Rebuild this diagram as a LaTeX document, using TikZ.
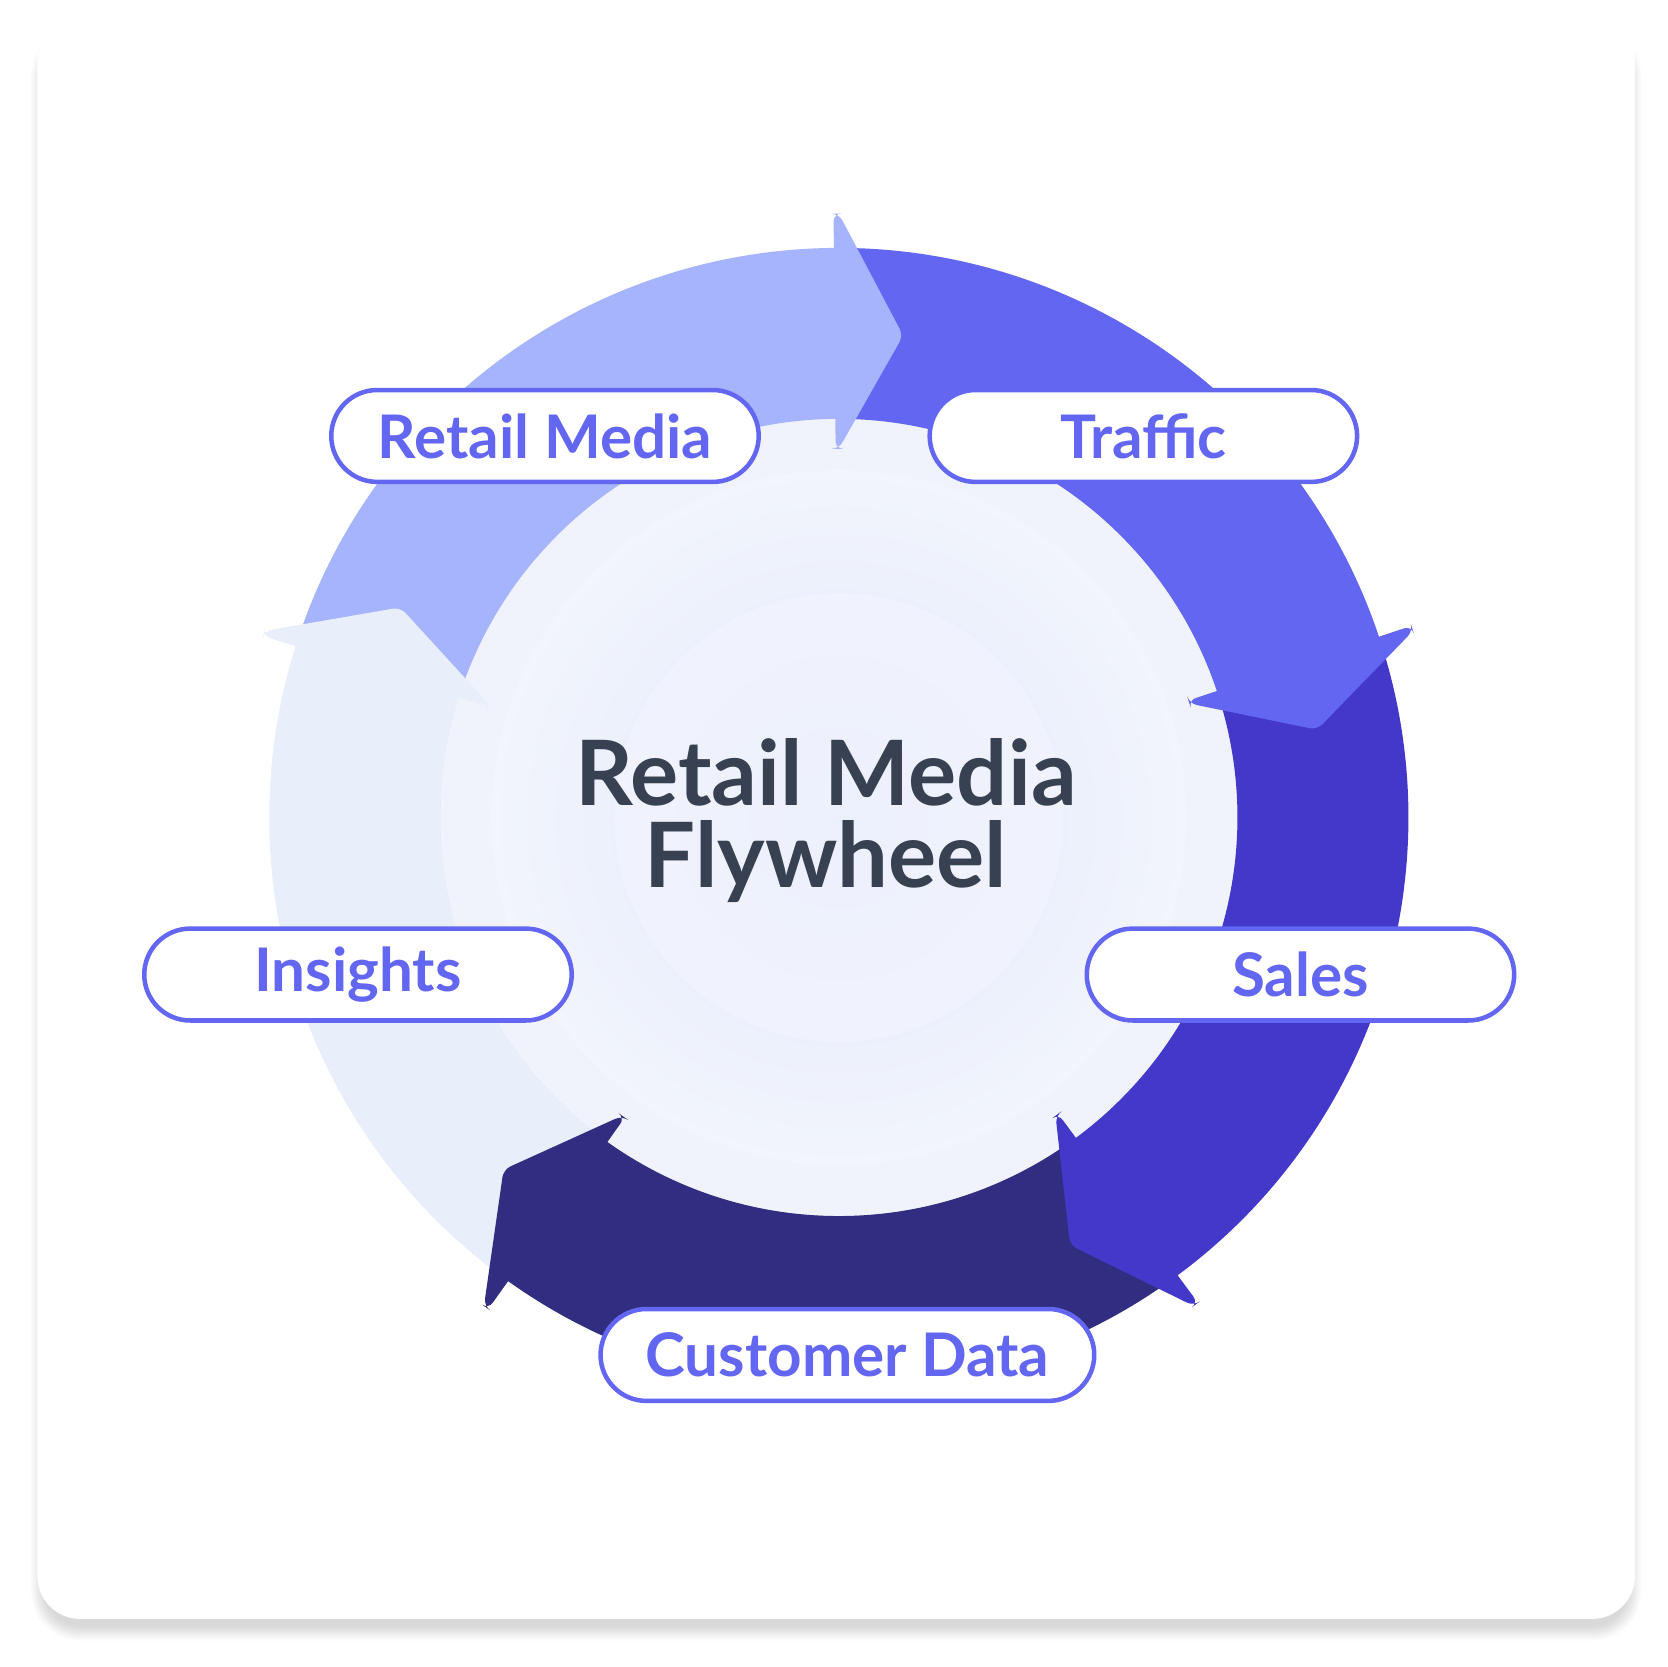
\documentclass[tikz,border=0pt]{standalone}
\usepackage{fontspec}
\setmainfont{Lato}
\usetikzlibrary{calc,shadows.blur}
\definecolor{cA}{HTML}{A5B4FC}
\definecolor{cB}{HTML}{6366F1}
\definecolor{cC}{HTML}{4338CA}
\definecolor{cD}{HTML}{312E81}
\definecolor{cE}{HTML}{E9EEFB}
\definecolor{pillc}{HTML}{6366F1}
\definecolor{titlec}{HTML}{374151}
\tikzset{pill/.style={draw=pillc,line width=1.2pt,fill=white,rounded corners=43*0.01cm,minimum height=86*0.01cm,text=pillc,font=\fontsize{16}{18}\selectfont\bfseries,inner sep=0pt}}
\begin{document}
\begin{tikzpicture}[x=0.01cm,y=0.01cm]
\useasboundingbox (0,0) rectangle (1560,1560);
\fill[white,rounded corners=40*0.01cm,blur shadow={shadow blur steps=12,shadow xshift=0pt,shadow yshift=-4pt,shadow opacity=15}] (35,45) rectangle (1530,1542);
\coordinate (c) at (785,795);
% inner disc
\fill[cE!70!white,blur shadow={shadow blur steps=10,shadow xshift=0pt,shadow yshift=-3pt,shadow opacity=20}] (c) circle (373);
\shade[inner color=cE!90!cA,outer color=cE!60!white] (c) circle (325);
\fill[cA!12!white,opacity=0.6] (c) circle (210);
% ring bodies
\foreach \s/\col in {162/cA,90/cB,18/cC,-54/cD,-126/cE}{
  \fill[\col] ($(c)+(\s:533)$) arc[start angle=\s,end angle=\s-72,radius=533] -- ($(c)+(\s-72:373)$) arc[start angle=\s-72,end angle=\s,radius=373] -- cycle;
}
% heads
\foreach \e/\col in {90/cA,18/cB,-54/cC,-126/cD,162/cE}{
  \fill[\col,rounded corners=2pt] ($(c)+(\e:565)$) -- ($(c)+(\e-7.6:455)$) -- ($(c)+(\e:345)$) -- ($(c)+(\e+0.5:345)$) -- ($(c)+(\e+0.5:373)$) -- ($(c)+(\e+0.5:533)$) -- ($(c)+(\e+0.5:565)$) -- cycle;
}
% title
\node[text=titlec,font=\fontsize{24}{24}\selectfont\bfseries,align=center] (title) at (773,792) {Retail Media\\[-2pt]Flywheel};
% pills
\node[pill,minimum width=400*0.01cm] (rm) at (510,1152) {Retail Media};
\node[pill,minimum width=400*0.01cm] (tr) at (1070,1152) {Traffic};
\node[pill,minimum width=400*0.01cm] (sa) at (1217,648) {Sales};
\node[pill,minimum width=400*0.01cm] (in) at (335,648) {Insights};
\node[pill,minimum width=462*0.01cm] (cd) at (793,292) {Customer Data};
\end{tikzpicture}
\end{document}
